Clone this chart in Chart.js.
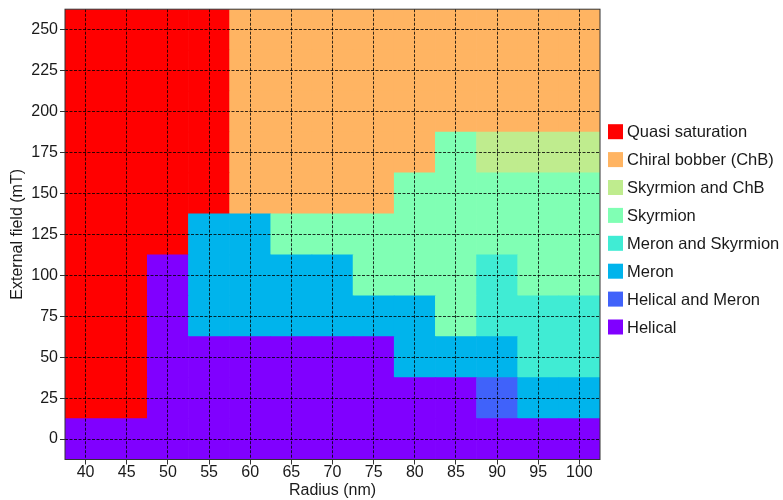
<!DOCTYPE html>
<html>
<head>
<meta charset="utf-8">
<script src="https://cdn.jsdelivr.net/npm/chart.js@4.4.1/dist/chart.umd.min.js"></script>
<style>
  html, body { margin: 0; padding: 0; background: #fff; }
</style>
</head>
<body>
<canvas id="phase" width="783" height="500"></canvas>
<script>
// radius (nm) columns and external field (mT) rows of the scan
const radii = [40, 45, 50, 55, 60, 65, 70, 75, 80, 85, 90, 95, 100];
const fields = [0, 25, 50, 75, 100, 125, 150, 175, 200, 225, 250];

// phase names, index in this list is the value used in phaseMap
const phases = [
  'Helical',
  'Helical and Meron',
  'Meron',
  'Meron and Skyrmion',
  'Skyrmion',
  'Skyrmion and ChB',
  'Chiral bobber (ChB)',
  'Quasi saturation'
];
const phaseColors = ['#8000ff', '#4062fa', '#00b4ec', '#40ecd4', '#80ffb4', '#bfec8e', '#ffb462', '#ff0000'];

// one row per field (bottom to top), one entry per radius
const phaseMap = [
  [0, 0, 0, 0, 0, 0, 0, 0, 0, 0, 0, 0, 0], // 0 mT
  [7, 7, 0, 0, 0, 0, 0, 0, 0, 0, 1, 2, 2], // 25
  [7, 7, 0, 0, 0, 0, 0, 0, 2, 2, 2, 3, 3], // 50
  [7, 7, 0, 2, 2, 2, 2, 2, 2, 4, 3, 3, 3], // 75
  [7, 7, 0, 2, 2, 2, 2, 4, 4, 4, 3, 4, 4], // 100
  [7, 7, 7, 2, 2, 4, 4, 4, 4, 4, 4, 4, 4], // 125
  [7, 7, 7, 7, 6, 6, 6, 6, 4, 4, 4, 4, 4], // 150
  [7, 7, 7, 7, 6, 6, 6, 6, 6, 4, 5, 5, 5], // 175
  [7, 7, 7, 7, 6, 6, 6, 6, 6, 6, 6, 6, 6], // 200
  [7, 7, 7, 7, 6, 6, 6, 6, 6, 6, 6, 6, 6], // 225
  [7, 7, 7, 7, 6, 6, 6, 6, 6, 6, 6, 6, 6]  // 250
];

const FONT = '"Liberation Sans", Arial, sans-serif';
const TEXT = '#1a1a1a';
const half = (fields[1] - fields[0]) / 2;

Chart.defaults.font.family = FONT;
Chart.defaults.font.size = 16;
Chart.defaults.color = TEXT;

// each field row is a dataset of floating bars, one per radius
const datasets = fields.map((f, r) => ({
  label: f + ' mT',
  data: radii.map(() => [f - half, f + half]),
  backgroundColor: phaseMap[r].map(p => phaseColors[p]),
  borderWidth: 0,
  barPercentage: 1,
  categoryPercentage: 1,
  grouped: false
}));

// frame on all four sides + legend on the right
const frameAndLegend = {
  id: 'frameAndLegend',
  afterDraw(chart) {
    const { ctx, chartArea: a } = chart;
    ctx.save();
    ctx.strokeStyle = '#333';
    ctx.lineWidth = 1;
    ctx.strokeRect(a.left, a.top, a.right - a.left, a.bottom - a.top);

    ctx.font = '16.5px ' + FONT;
    ctx.textBaseline = 'middle';
    const y0 = 131.7, step = 27.9, box = 15;
    for (let i = 0; i < phases.length; i++) {
      const p = phases.length - 1 - i;
      const y = y0 + i * step;
      ctx.fillStyle = phaseColors[p];
      ctx.fillRect(608, y - box / 2, box, box);
      ctx.fillStyle = TEXT;
      ctx.fillText(phases[p], 627, y + 1);
    }
    ctx.restore();
  }
};

const gridOpts = {
  offset: false,
  z: 1,
  color: '#000',
  lineWidth: 0.8,
  tickLength: 5,
  tickColor: '#333',
  tickWidth: 1,
  tickBorderDash: []
};

new Chart(document.getElementById('phase'), {
  type: 'bar',
  data: { labels: radii.map(String), datasets },
  options: {
    responsive: false,
    animation: false,
    layout: { padding: { top: 7.5, right: 183, left: 0, bottom: 0 } },
    plugins: { legend: { display: false }, tooltip: { enabled: false } },
    scales: {
      x: {
        type: 'category',
        offset: true,
        grid: gridOpts,
        border: { display: false, dash: [3, 1.5] },
        ticks: { padding: 0, maxRotation: 0, font: { size: 16, lineHeight: 1 } },
        title: { display: true, text: 'Radius (nm)', font: { size: 16 }, padding: 0 },
        afterFit: s => { s.height = 40.5; }
      },
      y: {
        type: 'linear',
        min: fields[0] - half,
        max: fields[fields.length - 1] + half,
        grid: gridOpts,
        border: { display: false, dash: [3, 1.5] },
        afterBuildTicks: s => { s.ticks = fields.map(v => ({ value: v })); },
        ticks: { padding: 2, font: { size: 16, lineHeight: 0.9 } },
        title: { display: true, text: 'External field (mT)', font: { size: 16 }, padding: { top: 8, bottom: 0 } },
        afterFit: s => { s.width = 65; }
      }
    }
  },
  plugins: [frameAndLegend]
});
</script>
</body>
</html>
